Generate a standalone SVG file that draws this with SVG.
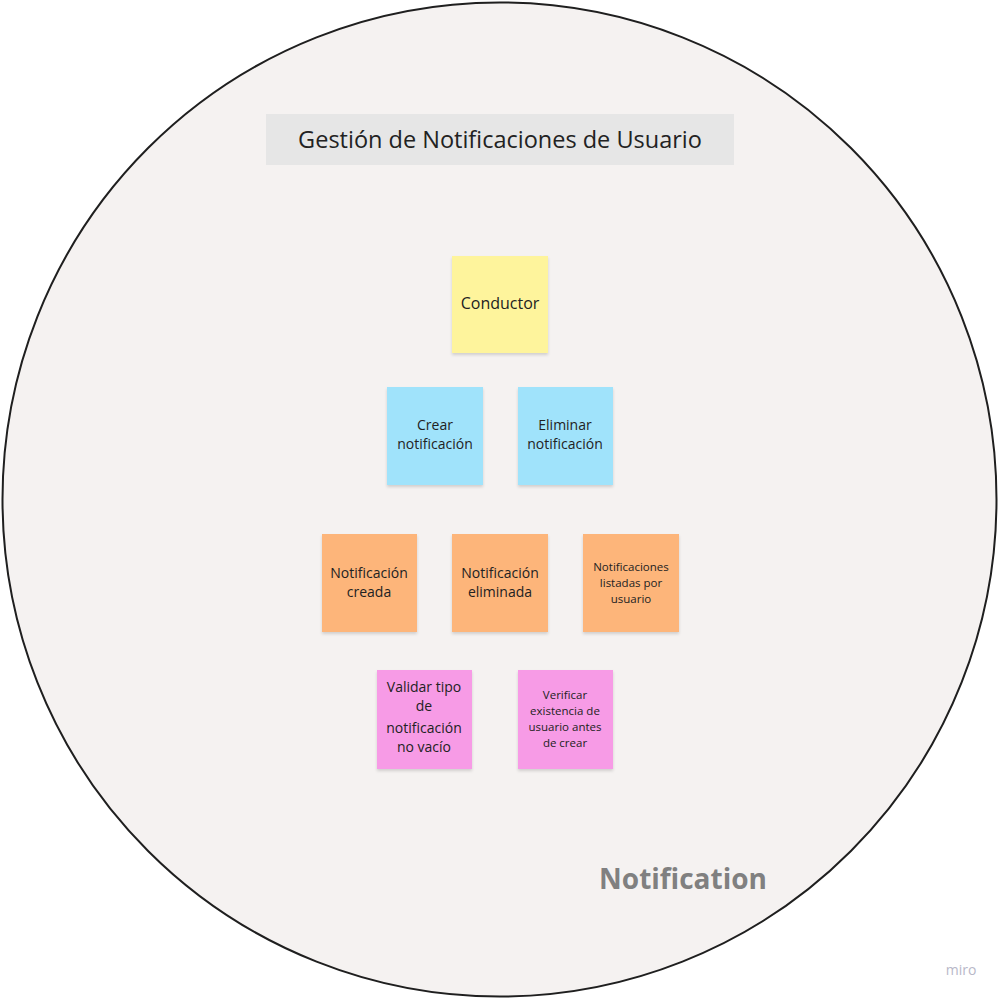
<svg xmlns="http://www.w3.org/2000/svg" width="999" height="999" viewBox="0 0 999 999">
<style>
.t{font-family:"Open Sans","Noto Sans",sans-serif;fill:#222;text-anchor:middle}
.s{font-size:14px}
.xs{font-size:11.5px}
.y{fill:#fef49c}
.b{fill:#a0e3fb}
.o{fill:#fdb57a}
.p{fill:#f79be6}
</style>
<defs>
<filter id="sh" x="-10%" y="-10%" width="125%" height="130%">
<feDropShadow dx="0" dy="2" stdDeviation="1.5" flood-color="#000" flood-opacity="0.15"/>
</filter>
</defs>
<rect width="999" height="999" fill="#fff"/>
<circle cx="499.5" cy="499.5" r="497" fill="#f5f2f1" stroke="#1f1f1f" stroke-width="2"/>
<g id="title">
<rect x="266" y="114" width="468" height="51" fill="#e6e6e6"/>
<text class="t" x="500" y="148" font-size="23.5">Gestión de Notificaciones de Usuario</text>
</g>
<g id="conductor">
<rect class="y" x="452" y="256" width="96" height="97" filter="url(#sh)"/>
<text class="t" x="500" y="309" font-size="16">Conductor</text>
</g>
<g id="crear">
<rect class="b" x="387" y="387" width="96" height="98" filter="url(#sh)"/>
<text class="t s" x="435" y="430">Crear</text>
<text class="t s" x="435" y="449">notificación</text>
</g>
<g id="eliminar">
<rect class="b" x="518" y="387" width="95" height="98" filter="url(#sh)"/>
<text class="t s" x="565" y="430">Eliminar</text>
<text class="t s" x="565" y="449">notificación</text>
</g>
<g id="creada">
<rect class="o" x="322" y="534" width="95" height="98" filter="url(#sh)"/>
<text class="t s" x="369" y="578">Notificación</text>
<text class="t s" x="369" y="597">creada</text>
</g>
<g id="eliminada">
<rect class="o" x="452" y="534" width="96" height="98" filter="url(#sh)"/>
<text class="t s" x="500" y="578">Notificación</text>
<text class="t s" x="500" y="597">eliminada</text>
</g>
<g id="listadas">
<rect class="o" x="583" y="534" width="96" height="98" filter="url(#sh)"/>
<text class="t xs" x="631" y="571">Notificaciones</text>
<text class="t xs" x="631" y="587">listadas por</text>
<text class="t xs" x="631" y="603">usuario</text>
</g>
<g id="validar">
<rect class="p" x="377" y="670" width="95" height="99" filter="url(#sh)"/>
<text class="t s" x="424" y="692">Validar tipo</text>
<text class="t s" x="424" y="711">de</text>
<text class="t s" x="424" y="733">notificación</text>
<text class="t s" x="424" y="752">no vacío</text>
</g>
<g id="verificar">
<rect class="p" x="518" y="670" width="95" height="99" filter="url(#sh)"/>
<text class="t xs" x="565" y="699">Verificar</text>
<text class="t xs" x="565" y="715">existencia de</text>
<text class="t xs" x="565" y="731">usuario antes</text>
<text class="t xs" x="565" y="747">de crear</text>
</g>
<g id="connectors"/>
<text x="683" y="889" font-family="'Open Sans','Noto Sans',sans-serif" font-weight="bold" font-size="28" fill="#808080" text-anchor="middle">Notification</text>
<text x="961" y="975" font-family="'Open Sans','Noto Sans',sans-serif" font-size="14" fill="#b8b8c8" text-anchor="middle">miro</text>
</svg>
